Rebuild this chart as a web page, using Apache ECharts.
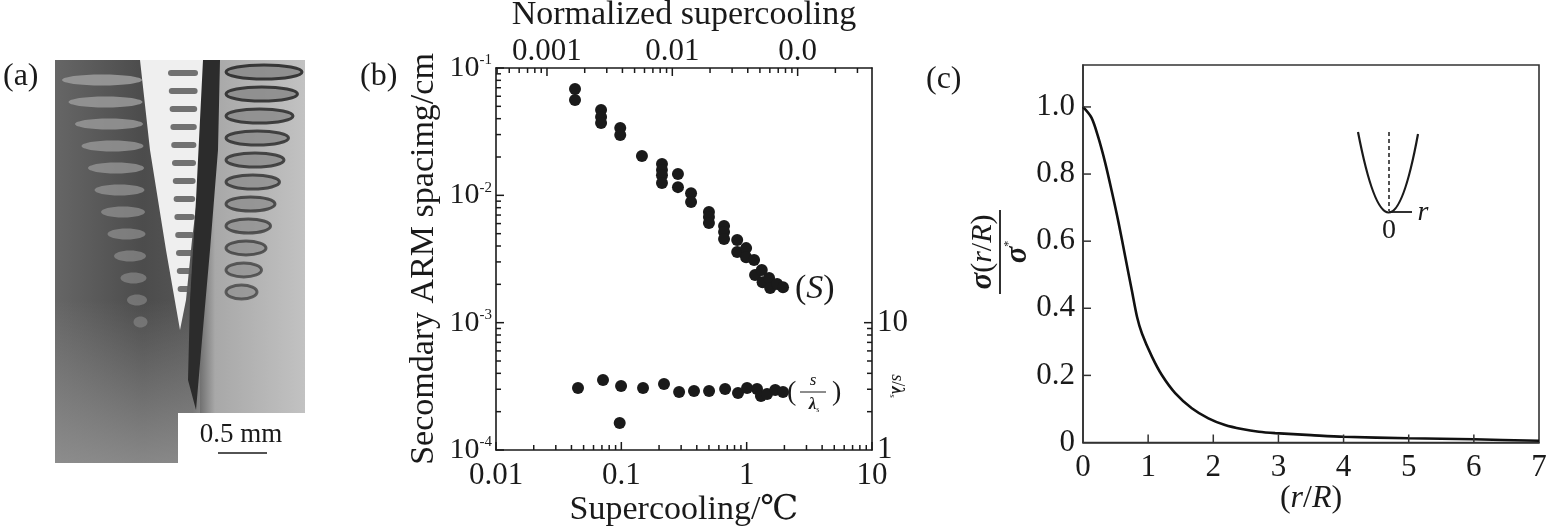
<!DOCTYPE html>
<html><head><meta charset="utf-8">
<script src="https://cdn.jsdelivr.net/npm/echarts@6/dist/echarts.min.js"></script>
<style>html,body{margin:0;padding:0;background:#fff}#c{width:1548px;height:527px}</style>
</head><body><div id="c"></div>
<script>
// ---------- Panel (b) data ----------
const supercoolingS = [0.0427,0.0427, 0.0689,0.0689,0.0689, 0.098,0.098, 0.146, 0.211,0.211,0.211,0.211,
  0.283,0.283, 0.36,0.36, 0.50,0.50,0.50, 0.66,0.66,0.66, 0.84,0.84, 0.99,0.99,
  1.146,1.167,1.32,1.34,1.51,1.54,1.75,1.95];
const spacingS = [0.0684,0.0561, 0.0468,0.0412,0.037, 0.0338,0.0298, 0.0204, 0.0176,0.0158,0.0144,0.0125,
  0.0147,0.0116, 0.0104,0.00886, 0.0074,0.00676,0.00606, 0.00574,0.00515,0.00454, 0.00446,0.00359, 0.00385,0.00327,
  0.0031,0.00237,0.00259,0.00208,0.00224,0.00187,0.00201,0.0019];
const supercoolingRatio = [0.0451,0.0714,0.0995,0.097,0.149,0.219,0.289,0.380,0.501,0.673,0.853,1.007,1.21,1.30,1.455,1.69,1.95];
const ratioValues = [3.07,3.55,3.18,1.63,3.07,3.30,2.86,2.91,2.91,3.01,2.80,3.07,3.01,2.66,2.75,2.96,2.86];
const bottomTickLabels = ['0.01','0.1','1','10'];
const topTickLabels = ['0.001','0.01','0.0'];
const leftTickExponents = ['-4','-3','-2','-1'];
const rightTickLabels = ['1','10'];
const normalizedFactor = 0.0392; // normalized supercooling per degree

// ---------- Panel (c) data ----------
const rOverR = [0,0.13,0.235,0.34,0.44,0.545,0.65,0.75,0.83,0.905,1.06,1.21,1.415,1.67,1.925,2.18,2.44,2.70,2.95,3.5,4,5,6,7];
const sigmaRatio = [1.0,0.968,0.909,0.834,0.750,0.656,0.552,0.453,0.374,0.325,0.255,0.201,0.147,0.102,0.072,0.052,0.040,0.032,0.028,0.022,0.017,0.0125,0.0095,0.005];
const cTickLabelsY = ['0','0.2','0.4','0.6','0.8','1.0'];
const cTickLabelsX = ['0','1','2','3','4','5','6','7'];

const FONT = '"Liberation Serif", "DejaVu Serif", serif';
const INK = '#1a1a1a';

function minorTicks(lo, hi) {
  const out = [];
  for (let e = Math.floor(Math.log10(lo)); e < Math.log10(hi); e++) {
    for (let m = 2; m <= 9; m++) {
      const v = m * Math.pow(10, e);
      if (v > lo * 1.0001 && v < hi * 0.9999) out.push(v);
    }
  }
  return out;
}
function pow10Between(lo, hi) {
  const out = [];
  for (let e = Math.ceil(Math.log10(lo) - 1e-9); e <= Math.floor(Math.log10(hi) + 1e-9); e++) out.push(Math.pow(10, e));
  return out;
}
function isPow10(v) { const l = Math.log10(v); return Math.abs(l - Math.round(l)) < 1e-6; }

// tick marks drawn through the axes' own scales, on their own canvas layer
function tickSeries(xi, yi, pts, dx, dy, color) {
  return {
    type: 'custom', xAxisIndex: xi, yAxisIndex: yi, clip: false, zlevel: 2, z: 20,
    data: pts,
    renderItem: function (params, api) {
      const p = api.coord([api.value(0), api.value(1)]);
      return { type: 'line', shape: { x1: p[0], y1: p[1], x2: p[0] + dx, y2: p[1] + dy },
        style: { stroke: color || INK, lineWidth: 1.5 } };
    }
  };
}

const chart = echarts.init(document.getElementById('c'), null, { renderer: 'canvas' });

const axisLineB = { show: true, lineStyle: { color: INK, width: 1.6 } };
const labelBase = { fontFamily: FONT, fontSize: 31, color: INK };

// photo-like drawing for panel (a)
const photo = [];
photo.push({ type: 'rect', shape: { x: 55, y: 60, width: 250, height: 403 },
  style: { fill: new echarts.graphic.LinearGradient(0, 0, 1, 0, [
    { offset: 0, color: '#666' }, { offset: 0.35, color: '#4c4c4c' }, { offset: 0.55, color: '#555' },
    { offset: 0.64, color: '#a8a8a8' }, { offset: 1, color: '#c2c2c2' }]) } });
photo.push({ type: 'rect', shape: { x: 55, y: 300, width: 145, height: 163 },
  style: { fill: new echarts.graphic.LinearGradient(0, 0, 0, 1, [
    { offset: 0, color: 'rgba(150,150,150,0)' }, { offset: 1, color: 'rgba(150,150,150,0.8)' }]) } });
photo.push({ type: 'polygon', shape: { points: [[140,60],[207,60],[203,150],[192,240],[186,300],[180,330],[166,250],[150,150]] },
  style: { fill: '#efefef' } });
for (let i = 0; i < 13; i++) {
  photo.push({ type: 'rect', shape: { x: 168 + i * 0.8, y: 70 + i * 18, width: 30 - i * 1.2, height: 6, r: 3 },
    style: { fill: '#5a5a5a', opacity: 0.85 } });
}
photo.push({ type: 'polygon', shape: { points: [[203,60],[220,60],[218,150],[210,250],[202,340],[196,410],[188,380],[190,300],[196,200],[200,120]] },
  style: { fill: '#2c2c2c' } });
for (let i = 0; i < 12; i++) {
  const l = 62 + i * 6.5, r = 142 + i * 0.5;
  photo.push({ type: 'ellipse', shape: { cx: (l + r) / 2, cy: 80 + i * 22, rx: (r - l) / 2, ry: 5.5 },
    style: { fill: '#9a9a9a', opacity: 0.9 - i * 0.04 } });
}
for (let i = 0; i < 11; i++) {
  const l = 226, r = 302 - i * 4.5;
  photo.push({ type: 'ellipse', shape: { cx: (l + r) / 2, cy: 72 + i * 22, rx: (r - l) / 2, ry: 7 },
    style: { fill: '#8d8d8d', stroke: '#303030', lineWidth: 3, opacity: 0.95 - i * 0.03 } });
}
photo.push({ type: 'rect', shape: { x: 178, y: 413, width: 127, height: 50 }, style: { fill: '#fff' } });
photo.push({ type: 'text', x: 241, y: 435, style: { text: '0.5 mm', font: '27px ' + FONT, fill: INK, align: 'center', verticalAlign: 'middle' } });
photo.push({ type: 'line', shape: { x1: 218, y1: 453, x2: 267, y2: 453 }, style: { stroke: INK, lineWidth: 1.5 } });

const annotations = [
  { type: 'text', x: 3, y: 77, style: { text: '(a)', font: '32px ' + FONT, fill: INK, verticalAlign: 'middle' } },
  { type: 'text', x: 360, y: 77, style: { text: '(b)', font: '32px ' + FONT, fill: INK, verticalAlign: 'middle' } },
  { type: 'text', x: 926, y: 80, style: { text: '(c)', font: '32px ' + FONT, fill: INK, verticalAlign: 'middle' } },
  { type: 'text', x: 795, y: 289, style: { text: '{n|(}{i|S}{n|)}', fill: INK, verticalAlign: 'middle',
      rich: { n: { font: '34px ' + FONT }, i: { font: 'italic 34px ' + FONT } } } },
  { type: 'text', x: 787, y: 393, style: { text: '(', font: '28px ' + FONT, fill: INK, verticalAlign: 'middle' } },
  { type: 'text', x: 813, y: 381, style: { text: 's', font: 'italic 17px ' + FONT, fill: INK, align: 'center', verticalAlign: 'middle' } },
  { type: 'line', shape: { x1: 800, y1: 392, x2: 826, y2: 392 }, style: { stroke: INK, lineWidth: 1 } },
  { type: 'text', x: 814, y: 405, style: { text: '{l|λ}{s|s}', fill: INK, align: 'center', verticalAlign: 'middle',
      rich: { l: { font: 'italic bold 17px ' + FONT }, s: { font: '8px ' + FONT, verticalAlign: 'bottom' } } } },
  { type: 'text', x: 832, y: 393, style: { text: ')', font: '28px ' + FONT, fill: INK, verticalAlign: 'middle' } },
  { type: 'text', x: 897, y: 386, rotation: -Math.PI / 2,
    style: { text: '{i|s}{n|/}{l|λ}{s|s}', fill: INK, align: 'center', verticalAlign: 'middle',
      rich: { i: { font: 'italic 18px ' + FONT }, n: { font: '18px ' + FONT }, l: { font: 'italic bold 18px ' + FONT }, s: { font: '9px ' + FONT, verticalAlign: 'bottom' } } } },
  { type: 'group', x: 1000, y: 252, rotation: Math.PI / 2, children: [
      { type: 'text', x: 0, y: -17, style: { text: '{g|σ}{n|(}{i|r}{n|/}{i|R}{n|)}', fill: INK, align: 'center', verticalAlign: 'middle',
          rich: { g: { font: 'italic bold 31px ' + FONT }, n: { font: '30px ' + FONT }, i: { font: 'italic 30px ' + FONT } } } },
      { type: 'line', shape: { x1: -42, y1: 0, x2: 42, y2: 0 }, style: { stroke: INK, lineWidth: 1.8 } },
      { type: 'text', x: 0, y: 18, style: { text: '{g|σ}{s|*}', fill: INK, align: 'center', verticalAlign: 'middle',
          rich: { g: { font: 'italic bold 31px ' + FONT }, s: { font: '12px ' + FONT, verticalAlign: 'top' } } } }
  ] },
  { type: 'bezierCurve', shape: { x1: 1358, y1: 132, cpx1: 1389, cpy1: 292, x2: 1418, y2: 134 }, style: { stroke: INK, lineWidth: 2.2, fill: null } },
  { type: 'line', shape: { x1: 1389, y1: 132, x2: 1389, y2: 211 }, style: { stroke: INK, lineWidth: 1.5, lineDash: [4, 3] } },
  { type: 'line', shape: { x1: 1389, y1: 212, x2: 1412, y2: 212 }, style: { stroke: INK, lineWidth: 1.8 } },
  { type: 'text', x: 1423, y: 213, style: { text: 'r', font: 'italic 28px ' + FONT, fill: INK, align: 'center', verticalAlign: 'middle' } },
  { type: 'text', x: 1389, y: 231, style: { text: '0', font: '28px ' + FONT, fill: INK, align: 'center', verticalAlign: 'middle' } }
];

const bMin = 0.01, bMax = 10, topMin = 0.01 * normalizedFactor, topMax = 10 * normalizedFactor;
const cXTicks = cTickLabelsX.map(Number).filter(v => v > 0 && v < 7);
const cYTicks = cTickLabelsY.map(Number).filter(v => v > 0);

const option = {
  backgroundColor: '#fff',
  animation: false,
  grid: [
    { left: 496, top: 68, width: 376, height: 382, outerBoundsMode: 'none', containLabel: false },
    { left: 1083, top: 65, width: 456, height: 377.5, outerBoundsMode: 'none', containLabel: false,
      show: true, borderColor: '#333', borderWidth: 1.6, backgroundColor: 'transparent' }
  ],
  xAxis: [
    { type: 'log', gridIndex: 0, position: 'bottom', min: bMin, max: bMax, logBase: 10,
      axisLine: axisLineB, splitLine: { show: false }, axisTick: { show: false },
      axisLabel: Object.assign({ margin: 10, formatter: v => isPow10(v) ? bottomTickLabels[Math.round(Math.log10(v)) + 2] : '' }, labelBase),
      name: 'Supercooling/℃', nameLocation: 'middle', nameGap: 43, nameMoveOverlap: false,
      nameTextStyle: { fontFamily: FONT, fontSize: 34, color: INK } },
    { type: 'log', gridIndex: 0, position: 'top', min: topMin, max: topMax, logBase: 10,
      axisLine: axisLineB, splitLine: { show: false }, axisTick: { show: false },
      axisLabel: Object.assign({ margin: 1, formatter: v => isPow10(v) ? topTickLabels[Math.round(Math.log10(v)) + 3] : '' }, labelBase),
      name: 'Normalized supercooling', nameLocation: 'middle', nameGap: 36, nameMoveOverlap: false,
      nameTextStyle: { fontFamily: FONT, fontSize: 34, color: INK } },
    { type: 'value', gridIndex: 1, min: 0, max: 7, interval: 1,
      axisLine: { show: true, lineStyle: { color: '#333', width: 1.6 } }, splitLine: { show: false },
      axisTick: { show: false },
      axisLabel: Object.assign({ margin: 10, formatter: v => cTickLabelsX[Math.round(v)] }, labelBase),
      name: '{n|(}{i|r}{n|/}{i|R}{n|)}', nameLocation: 'middle', nameGap: 40, nameMoveOverlap: false,
      nameTextStyle: { color: INK, rich: { n: { fontFamily: FONT, fontSize: 32 }, i: { fontFamily: FONT, fontSize: 32, fontStyle: 'italic' } } } }
  ],
  yAxis: [
    { type: 'log', gridIndex: 0, position: 'left', min: 1e-4, max: 1e-1, logBase: 10,
      axisLine: axisLineB, splitLine: { show: false }, axisTick: { show: false },
      axisLabel: { margin: 4, color: INK,
        formatter: v => isPow10(v) ? '{b|10}{s|' + leftTickExponents[Math.round(Math.log10(v)) + 4] + '}' : '',
        rich: { b: { fontFamily: FONT, fontSize: 30, lineHeight: 30, color: INK },
                s: { fontFamily: FONT, fontSize: 15, lineHeight: 16, verticalAlign: 'top', color: INK } } },
      name: 'Secomdary ARM spacimg/cm', nameLocation: 'middle', nameRotate: 90, nameGap: 55, nameMoveOverlap: false,
      nameTextStyle: { fontFamily: FONT, fontSize: 34, color: INK } },
    { type: 'log', gridIndex: 0, position: 'right', min: 1, max: 1000, logBase: 10,
      axisLine: axisLineB, splitLine: { show: false }, axisTick: { show: false },
      axisLabel: Object.assign({ margin: 5, formatter: v => {
        const i = Math.round(Math.log10(v)); return (isPow10(v) && i < rightTickLabels.length) ? rightTickLabels[i] : ''; } }, labelBase) },
    { type: 'value', gridIndex: 1, min: 0, max: 1.125, interval: 0.2,
      axisLine: { show: true, lineStyle: { color: '#333', width: 1.6 } }, splitLine: { show: false },
      axisTick: { show: false },
      axisLabel: Object.assign({ margin: 8, formatter: v => {
        const i = Math.round(v / 0.2); return (Math.abs(v - i * 0.2) < 1e-6 && i < cTickLabelsY.length) ? cTickLabelsY[i] : ''; } }, labelBase) }
  ],
  series: [
    { type: 'scatter', xAxisIndex: 0, yAxisIndex: 0, symbolSize: 12, z: 10,
      itemStyle: { color: INK, opacity: 1 },
      data: supercoolingS.map((x, i) => [x, spacingS[i]]) },
    { type: 'scatter', xAxisIndex: 0, yAxisIndex: 1, symbolSize: 12, z: 10,
      itemStyle: { color: INK, opacity: 1 },
      data: supercoolingRatio.map((x, i) => [x, ratioValues[i]]) },
    { type: 'line', xAxisIndex: 2, yAxisIndex: 2, smooth: 0.3, showSymbol: false, symbol: 'none',
      lineStyle: { color: '#111', width: 2.6 },
      data: rOverR.map((x, i) => [x, sigmaRatio[i]]) },
    // panel (b) ticks
    tickSeries(0, 0, minorTicks(bMin, bMax).map(v => [v, 1e-4]), 0, -5),
    tickSeries(0, 0, pow10Between(bMin, bMax).map(v => [v, 1e-4]), 0, -8),
    tickSeries(1, 0, minorTicks(topMin, topMax).map(v => [v, 1e-1]), 0, 5),
    tickSeries(1, 0, pow10Between(topMin, topMax).map(v => [v, 1e-1]), 0, 8),
    tickSeries(0, 0, minorTicks(1e-4, 1e-1).map(v => [bMin, v]), 5, 0),
    tickSeries(0, 0, pow10Between(1e-4, 1e-1).map(v => [bMin, v]), 8, 0),
    tickSeries(0, 1, minorTicks(1, 10).map(v => [bMax, v]), -5, 0),
    tickSeries(0, 1, [[bMax, 10]], -8, 0),
    // panel (c) ticks
    tickSeries(2, 2, cXTicks.map(v => [v, 0]), 0, -8, '#333'),
    tickSeries(2, 2, cYTicks.map(v => [0, v]), 8, 0, '#333')
  ],
  graphic: photo.concat(annotations)
};
chart.setOption(option);
</script>
</body></html>
